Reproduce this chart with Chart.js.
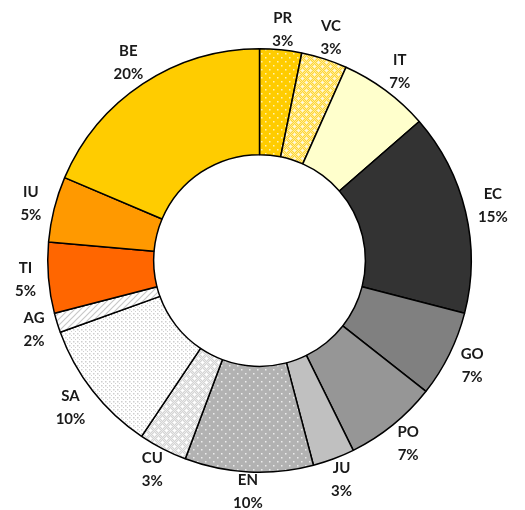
<!DOCTYPE html>
<html>
<head>
<meta charset="utf-8">
<script src="https://cdn.jsdelivr.net/npm/chart.js@4/dist/chart.umd.min.js"></script>
<style>
    html, body { margin: 0; padding: 0; background: #fff; }
    #wrap { width: 525px; height: 510px; }
</style>
</head>
<body>
<div id="wrap"><canvas id="donutChart" width="525" height="510"></canvas></div>
<script>
// Slice sizes (share of the ring, %), and the printed labels
const categories = ['PR', 'VC', 'IT', 'EC', 'GO', 'PO', 'JU', 'EN', 'CU', 'SA', 'AG', 'TI', 'IU', 'BE'];
const shares = [3.2, 3.5, 6.9, 15.4, 6.6, 7.1, 3.2, 9.8, 3.7, 10.1, 1.5, 5.4, 5.0, 18.6];
const percentLabels = ['3%', '3%', '7%', '15%', '7%', '7%', '3%', '10%', '3%', '10%', '2%', '5%', '5%', '20%'];

// Small tile patterns, like the Excel fills
function makePattern(size, draw) {
    const c = document.createElement('canvas');
    c.width = size;
    c.height = size;
    const g = c.getContext('2d');
    draw(g, size);
    return document.getElementById('donutChart').getContext('2d').createPattern(c, 'repeat');
}

function dots(base, dot, size) {
    return makePattern(size, function(g, s) {
        g.fillStyle = base;
        g.fillRect(0, 0, s, s);
        g.fillStyle = dot;
        g.fillRect(1, 1, 1.5, 1.5);
        g.fillRect(s / 2 + 1, s / 2 + 1, 1.5, 1.5);
    });
}

function checker(base, light, dot) {
    return makePattern(8, function(g, s) {
        g.fillStyle = base;
        g.fillRect(0, 0, s, s);
        g.fillStyle = light;
        for (let y = 0; y < s; y++) {
            for (let x = (y % 2); x < s; x += 2) {
                g.fillRect(x, y, 1, 1);
            }
        }
        g.fillStyle = dot;
        g.fillRect(2, 1, 1, 3);
        g.fillRect(1, 2, 3, 1);
        g.fillRect(6, 5, 1, 3);
        g.fillRect(5, 6, 3, 1);
    });
}

const hatch = makePattern(6, function(g, s) {
    g.fillStyle = '#ffffff';
    g.fillRect(0, 0, s, s);
    g.strokeStyle = '#c8c8c8';
    g.lineWidth = 1.2;
    g.beginPath();
    g.moveTo(0, s);
    g.lineTo(s, 0);
    g.moveTo(-1, 1);
    g.lineTo(1, -1);
    g.moveTo(s - 1, s + 1);
    g.lineTo(s + 1, s - 1);
    g.stroke();
});

const fills = [
    dots('#ffcc00', '#fff2b3', 8),          // PR
    checker('#ffd633', '#ffeb99', '#fff7d6'), // VC
    '#ffffcc',                               // IT
    '#333333',                               // EC
    '#808080',                               // GO
    '#969696',                               // PO
    '#c0c0c0',                               // JU
    dots('#b2b2b2', '#ececec', 8),          // EN
    checker('#d4d4d4', '#ececec', '#ffffff'), // CU
    dots('#ffffff', '#cfcfcf', 4),          // SA
    hatch,                                   // AG
    '#ff6600',                               // TI
    '#ff9900',                               // IU
    '#ffcc00'                                // BE
];

// Category + percent written outside each slice
const outsideLabels = {
    id: 'outsideLabels',
    afterDatasetsDraw(chart) {
        const ctx = chart.ctx;
        const arcs = chart.getDatasetMeta(0).data;
        const lineGap = 23;
        ctx.save();
        ctx.font = 'bold 15px Lato, "Open Sans", sans-serif';
        ctx.fillStyle = '#1a1a1a';
        ctx.textAlign = 'center';
        ctx.textBaseline = 'middle';
        arcs.forEach(function(arc, i) {
            const p = arc.getProps(['x', 'y', 'startAngle', 'endAngle', 'outerRadius']);
            const mid = (p.startAngle + p.endAngle) / 2;
            const halfW = Math.max(ctx.measureText(categories[i]).width, ctx.measureText(percentLabels[i]).width) / 2;
            const r = p.outerRadius + 12 + halfW * Math.abs(Math.cos(mid)) + 7 * Math.abs(Math.sin(mid));
            const cx = p.x + Math.cos(mid) * r;
            const cy = p.y + Math.sin(mid) * r;
            ctx.fillText(categories[i], cx, cy - lineGap / 2);
            ctx.fillText(percentLabels[i], cx, cy + lineGap / 2);
        });
        ctx.restore();
    }
};

new Chart(document.getElementById('donutChart').getContext('2d'), {
    type: 'doughnut',
    data: {
        labels: categories,
        datasets: [{
            data: shares,
            backgroundColor: fills,
            borderColor: '#000000',
            borderWidth: 1.5,
            hoverOffset: 0
        }]
    },
    options: {
        responsive: false,
        animation: false,
        cutout: '50%',
        layout: {
            padding: { top: 47, bottom: 36, left: 47, right: 53 }
        },
        plugins: {
            legend: { display: false },
            tooltip: { enabled: false }
        }
    },
    plugins: [outsideLabels]
});
</script>
</body>
</html>
